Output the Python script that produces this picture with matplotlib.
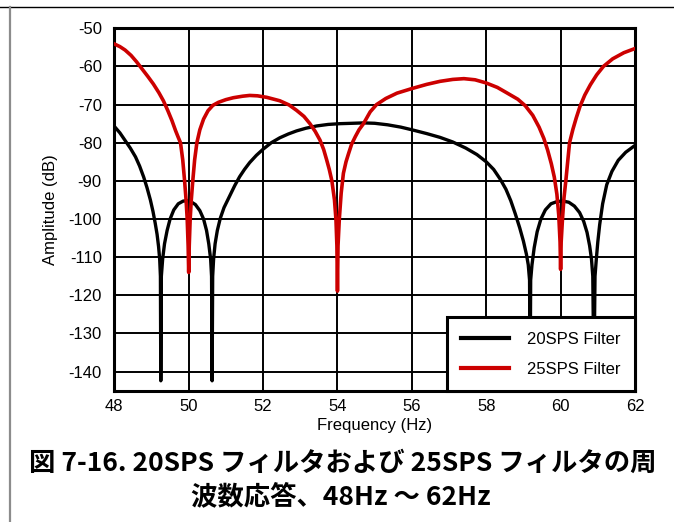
import matplotlib
matplotlib.use("Agg")
import matplotlib.pyplot as plt
from matplotlib.lines import Line2D

# ---------------- data ----------------
freq_20 = [48.00, 48.15, 48.29, 48.43, 48.57, 48.68, 48.79, 48.88, 48.97, 49.04,
           49.10, 49.15, 49.19, 49.22, 49.24, 49.25, 49.265, 49.30, 49.35, 49.42,
           49.50, 49.60, 49.72, 49.85, 49.95, 50.05, 50.18, 50.30, 50.40, 50.48,
           50.54, 50.59, 50.615, 50.63, 50.645, 50.67, 50.71, 50.77, 50.85, 50.95,
           51.10, 51.24, 51.37, 51.50, 51.64, 51.82, 52.00, 52.22, 52.45, 52.68,
           52.90, 53.15, 53.44, 53.75, 54.07, 54.40, 54.70, 55.00, 55.35, 55.70,
           56.00, 56.40, 56.76, 57.10, 57.45, 57.75, 58.00, 58.20, 58.38, 58.53,
           58.66, 58.78, 58.90, 59.00, 59.08, 59.13, 59.165, 59.18, 59.195, 59.23,
           59.29, 59.37, 59.47, 59.59, 59.74, 59.91, 60.07, 60.22, 60.37, 60.51,
           60.62, 60.71, 60.78, 60.83, 60.865, 60.895, 60.925, 60.96, 61.00, 61.05,
           61.13, 61.24, 61.38, 61.55, 61.75, 62.00]
amp_20 = [-75.7, -77.4, -79.4, -81.4, -83.7, -86.1, -89.0, -91.8, -95.0, -98.0,
          -101.1, -104.0, -107.2, -110.5, -115.0, -142.4, -115.0, -110.5, -106.5, -103.0,
          -100.0, -97.6, -96.0, -95.3, -95.2, -95.4, -96.2, -97.8, -100.0, -103.0,
          -106.5, -110.5, -115.0, -142.4, -115.0, -110.5, -106.5, -103.0, -99.8, -97.0,
          -94.0, -91.2, -88.9, -87.0, -85.2, -83.3, -81.7, -80.0, -78.7, -77.7,
          -76.9, -76.2, -75.6, -75.2, -75.0, -74.9, -74.8, -74.9, -75.3, -75.9,
          -76.6, -77.6, -78.6, -79.8, -81.4, -83.1, -85.0, -87.0, -89.6, -92.2,
          -95.2, -98.6, -102.3, -105.8, -109.2, -112.0, -116.0, -142.4, -116.0, -112.0,
          -107.5, -103.3, -100.0, -97.6, -96.0, -95.4, -95.3, -95.6, -96.6, -98.3,
          -100.6, -103.5, -107.0, -110.5, -115.0, -142.4, -115.0, -110.5, -106.0, -101.5,
          -96.0, -91.0, -87.5, -84.6, -82.5, -80.7]

freq_25 = [48.00, 48.15, 48.29, 48.45, 48.60, 48.75, 48.90, 49.05, 49.20, 49.32,
           49.44, 49.55, 49.65, 49.72, 49.78, 49.84, 49.89, 49.93, 49.96, 49.985,
           50.00, 50.015, 50.04, 50.07, 50.11, 50.16, 50.22, 50.30, 50.40, 50.52,
           50.65, 50.80, 51.00, 51.20, 51.45, 51.64, 51.85, 52.10, 52.45, 52.70,
           52.90, 53.10, 53.26, 53.40, 53.53, 53.63, 53.71, 53.78, 53.85, 53.92,
           53.96, 53.985, 54.00, 54.015, 54.05, 54.10, 54.16, 54.23, 54.30, 54.38,
           54.48, 54.58, 54.70, 54.88, 55.05, 55.30, 55.60, 56.00, 56.40, 56.76,
           57.10, 57.40, 57.70, 57.99, 58.30, 58.55, 58.85, 59.05, 59.25, 59.42,
           59.55, 59.65, 59.75, 59.83, 59.90, 59.95, 59.985, 60.00, 60.015, 60.05,
           60.09, 60.14, 60.19, 60.24, 60.33, 60.42, 60.52, 60.65, 60.80, 60.97,
           61.15, 61.40, 61.70, 62.00]
amp_25 = [-54.1, -54.8, -55.7, -57.1, -58.8, -60.7, -62.6, -64.6, -66.9, -69.0,
          -71.6, -74.2, -76.9, -78.6, -80.0, -84.5, -90.0, -95.0, -100.0, -107.0,
          -114.0, -107.0, -100.0, -95.0, -90.0, -84.5, -80.0, -76.6, -73.8, -71.6,
          -70.2, -69.4, -68.7, -68.2, -67.8, -67.6, -67.7, -68.1, -69.0, -70.1,
          -71.5, -73.1, -75.0, -77.0, -79.3, -81.8, -84.5, -87.0, -90.0, -95.0,
          -100.2, -107.0, -118.9, -107.0, -100.0, -93.2, -88.0, -85.0, -82.8, -80.4,
          -78.4, -76.6, -75.0, -71.9, -70.0, -68.4, -67.0, -65.8, -64.7, -63.9,
          -63.4, -63.2, -63.5, -64.3, -65.5, -66.9, -68.6, -70.3, -72.8, -75.9,
          -78.9, -81.9, -85.5, -89.0, -93.5, -99.0, -106.0, -113.2, -106.0, -100.0,
          -94.5, -90.0, -85.0, -80.0, -76.5, -73.5, -70.5, -67.5, -64.8, -62.2,
          -60.0, -58.0, -56.4, -55.3]

series_labels = ["20SPS Filter", "25SPS Filter"]
x_ticks = [48, 50, 52, 54, 56, 58, 60, 62]
y_ticks = [-140, -130, -120, -110, -100, -90, -80, -70, -60, -50]
x_label = "Frequency (Hz)"
y_label = "Amplitude (dB)"
caption_lines = ["図 7-16. 20SPS フィルタおよび 25SPS フィルタの周",
                 "波数応答、48Hz ～ 62Hz"]

# ---------------- figure ----------------
plt.rcParams['font.family'] = ['Liberation Sans', 'DejaVu Sans']
plt.rcParams['axes.unicode_minus'] = False
W, H = 674, 522
fig = plt.figure(figsize=(W / 100, H / 100), dpi=100)

# page frame lines
fig.add_artist(Line2D([0, 1], [1 - 6.8 / H, 1 - 6.8 / H], transform=fig.transFigure,
                      color='black', lw=1.0))
fig.add_artist(Line2D([10 / W, 10 / W], [0, 1 - 6.8 / H], transform=fig.transFigure,
                      color='#8c8c8c', lw=1.6))

left, right, top, bottom = 114.3, 635.0, 28.3, 390.7
ax = fig.add_axes([left / W, 1 - bottom / H, (right - left) / W, (bottom - top) / H])

ax.plot(freq_20, amp_20, color='black', lw=2.4, label=series_labels[0], zorder=3,
        solid_joinstyle='round')
ax.plot(freq_25, amp_25, color='#cc0000', lw=2.6, label=series_labels[1], zorder=3,
        solid_joinstyle='round')

ax.set_xlim(48, 62)
ax.set_ylim(-145, -50)
ax.set_xticks(x_ticks)
ax.set_yticks(y_ticks)
ax.grid(True, color='black', lw=1.4)
ax.set_axisbelow(True)
for s in ax.spines.values():
    s.set_linewidth(2.2)
    s.set_color('black')
ax.tick_params(length=0, labelsize=12, colors='black')
ax.tick_params(axis='x', pad=6)
ax.tick_params(axis='y', pad=9)

ax.set_xlabel(x_label, fontsize=12)
ax.set_ylabel(y_label, fontsize=12)
ax.xaxis.set_label_coords(0.5, -0.076)
ax.yaxis.set_label_coords(-0.108, 0.5)

leg = ax.legend(loc='lower right', borderaxespad=0, fancybox=False, fontsize=12,
                handlelength=2.9, handletextpad=1.1, borderpad=0.85, labelspacing=0.9,
                framealpha=1)
leg.get_frame().set_edgecolor('black')
leg.get_frame().set_linewidth(2.2)
for h in leg.get_lines():
    h.set_linewidth(3.0)

cap_font = ['Noto Sans CJK JP', 'DejaVu Sans']
fig.text(343 / W, 1 - 463 / H, caption_lines[0], ha='center', va='center',
         fontsize=19, fontweight='bold', family=cap_font)
fig.text(341 / W, 1 - 497 / H, caption_lines[1], ha='center', va='center',
         fontsize=19, fontweight='bold', family=cap_font)

fig.savefig('out.png', dpi=100)
